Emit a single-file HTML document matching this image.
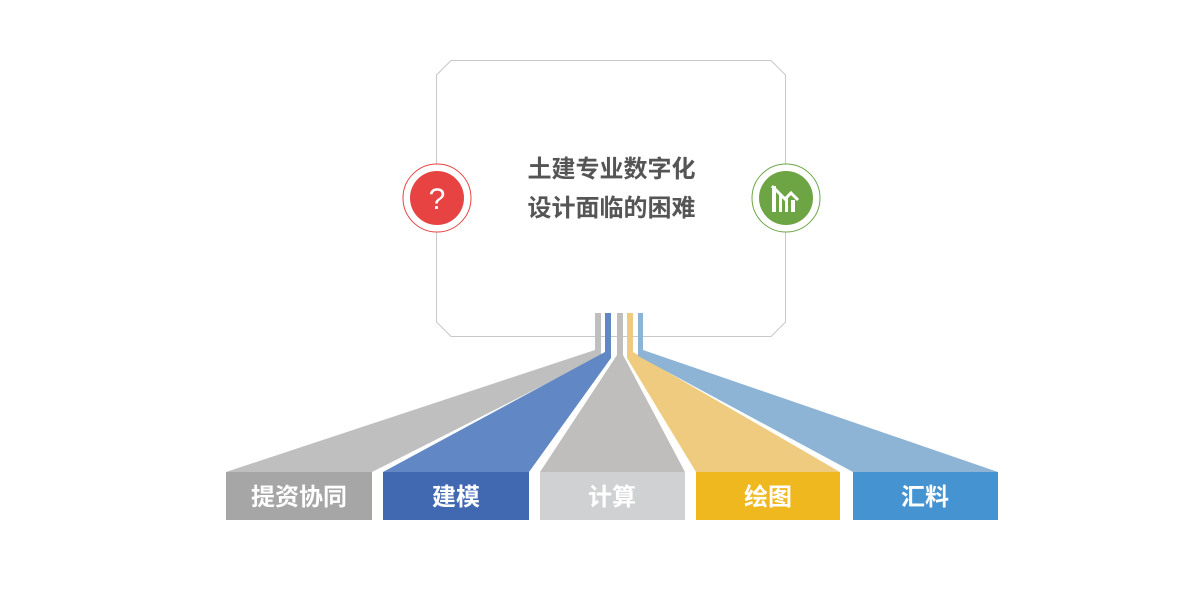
<!DOCTYPE html>
<html><head><meta charset="utf-8"><style>
body{margin:0;background:#fff;}
svg{display:block}
text{font-family:"Liberation Sans","Noto Sans CJK SC",sans-serif;font-weight:bold}
</style></head><body>
<svg width="1200" height="600" viewBox="0 0 1200 600">
<polygon points="451,60.5 771,60.5 785.5,75 785.5,322 771,336.5 451,336.5 436.5,322 436.5,75" fill="#fff" stroke="#c8c8c8" stroke-width="1"/>
<text x="611.5" y="177" text-anchor="middle" font-size="24" fill="#555">土建专业数字化</text>
<text x="611.5" y="216" text-anchor="middle" font-size="24" fill="#555">设计面临的困难</text>
<circle cx="437" cy="198" r="34" fill="#fff" stroke="#e84343" stroke-width="1"/>
<circle cx="437" cy="198" r="27" fill="#e84343"/>
<text x="437" y="209" text-anchor="middle" font-size="30" fill="#fff" style="font-weight:normal">?</text>
<circle cx="786" cy="198" r="34" fill="#fff" stroke="#6ea544" stroke-width="1"/>
<circle cx="786" cy="198" r="27" fill="#6ea544"/>
<g fill="#fff">
<rect x="772" y="186" width="4" height="26"/><rect x="779" y="194" width="3" height="18"/><rect x="785" y="198" width="3" height="14"/><rect x="791" y="200" width="4" height="12"/>
<polyline points="772,186 785,199 791,193 798,200" fill="none" stroke="#fff" stroke-width="3"/>
</g>
<polygon points="595,313 601,313 601,356 372,472 226,472 595,350" fill="#bfbfbf"/>
<polygon points="605,313 611,313 611,358 529,472 383,472 605,352" fill="#6187c4"/>
<polygon points="617,313 623,313 623,355 685,472 540,472 617,355" fill="#bfbebd"/>
<polygon points="627,313 633,313 633,352 840,472 696,472 627,358" fill="#efcb7f"/>
<polygon points="638,313 643,313 643,350 998,472 853,472 638,356" fill="#8db4d5"/>
<rect x="226" y="472" width="146" height="48" fill="#a6a6a6"/>
<rect x="383" y="472" width="146" height="48" fill="#4169b1"/>
<rect x="540" y="472" width="145" height="48" fill="#d0d1d3"/>
<rect x="696" y="472" width="144" height="48" fill="#f0b81f"/>
<rect x="853" y="472" width="145" height="48" fill="#4593d0"/>
<g font-size="24" fill="#fff" text-anchor="middle">
<text x="299" y="505">提资协同</text>
<text x="456" y="505">建模</text>
<text x="612" y="505">计算</text>
<text x="768" y="505">绘图</text>
<text x="925" y="505">汇料</text>
</g>
</svg>
</body></html>
